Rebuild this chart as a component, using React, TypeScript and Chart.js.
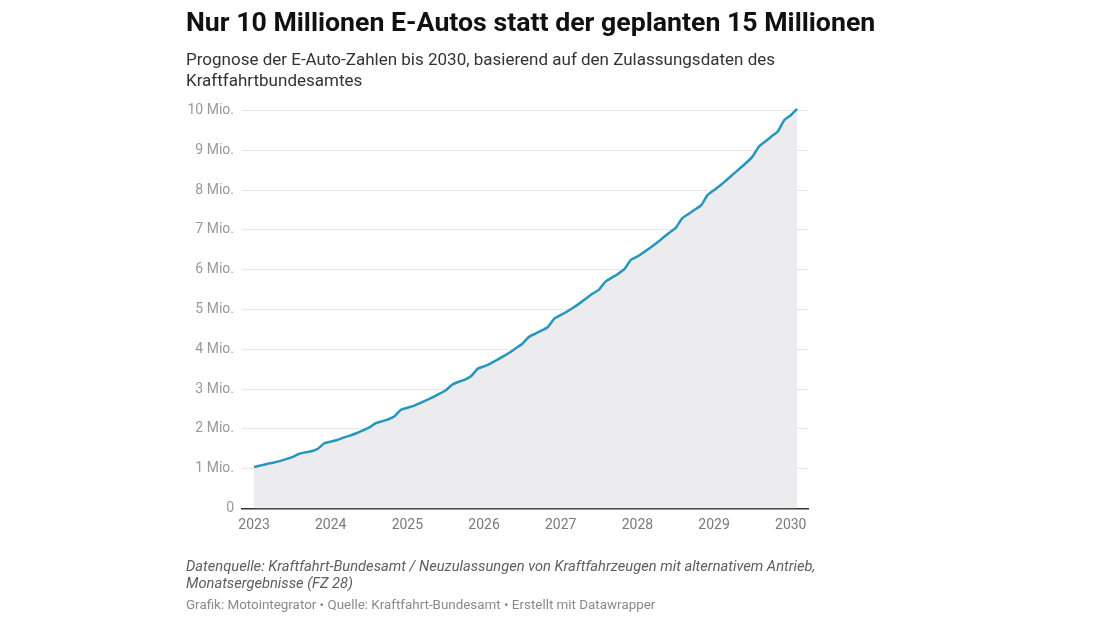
import React, { useEffect, useRef } from "react";
import { Chart, registerables } from "chart.js";

Chart.register(...registerables);

// Monthly cumulative number of e-cars (millions), Jan 2023 .. Feb 2030
const values2023 = [1.04, 1.08, 1.12, 1.15, 1.19, 1.24, 1.29, 1.37, 1.41, 1.44, 1.5, 1.64];
const values2024 = [1.68, 1.72, 1.78, 1.83, 1.89, 1.96, 2.03, 2.14, 2.19, 2.24, 2.32, 2.48];
const values2025 = [2.53, 2.58, 2.65, 2.72, 2.8, 2.88, 2.97, 3.11, 3.18, 3.24, 3.33, 3.51];
const values2026 = [3.57, 3.64, 3.73, 3.82, 3.92, 4.03, 4.14, 4.31, 4.39, 4.47, 4.56, 4.77];
const values2027 = [4.86, 4.95, 5.05, 5.16, 5.28, 5.4, 5.5, 5.7, 5.8, 5.9, 6.02, 6.25];
const values2028 = [6.33, 6.44, 6.55, 6.67, 6.8, 6.93, 7.05, 7.29, 7.4, 7.51, 7.62, 7.88];
const values2029 = [8.0, 8.12, 8.26, 8.4, 8.54, 8.68, 8.84, 9.09, 9.22, 9.35, 9.48, 9.76];
const values2030 = [9.88, 10.04];

const allValues = [
  ...values2023, ...values2024, ...values2025, ...values2026,
  ...values2027, ...values2028, ...values2029, ...values2030,
];

const yearLabels = ["2023", "2024", "2025", "2026", "2027", "2028", "2029", "2030"];
const yTicks = [0, 1, 2, 3, 4, 5, 6, 7, 8, 9, 10];

const FONT = "Roboto, 'Noto Sans', sans-serif";

export default function App() {
  const ref = useRef<HTMLCanvasElement | null>(null);

  useEffect(() => {
    if (!ref.current) return;
    const points = allValues.map((v, i) => ({ x: i, y: v }));
    const chart = new Chart(ref.current, {
      type: "line",
      data: {
        datasets: [
          {
            data: points,
            borderColor: "#2596bc",
            borderWidth: 2.5,
            backgroundColor: "#ececef",
            fill: "origin",
            pointRadius: 0,
            tension: 0.2,
          },
        ],
      },
      options: {
        animation: false,
        responsive: false,
        maintainAspectRatio: false,
        layout: { padding: { top: 102.5, right: 292, bottom: 0, left: 0 } },
        plugins: { legend: { display: false }, tooltip: { enabled: false } },
        scales: {
          x: {
            type: "linear",
            min: -1.88,
            max: 86.7,
            afterBuildTicks: (s: any) => {
              s.ticks = yearLabels.map((_, i) => ({ value: i * 12 }));
            },
            afterFit: (s: any) => {
              s.height = 618 - 508.5;
            },
            grid: { color: "transparent", drawTicks: false },
            border: { display: true, color: "#333333", width: 1.5 },
            ticks: {
              padding: 9,
              color: "#7a7a7a",
              font: { family: FONT, size: 14 },
              maxRotation: 0,
              autoSkip: false,
              callback: (v: any) => yearLabels[Math.round(Number(v) / 12)] ?? "",
            },
          },
          y: {
            min: 0,
            max: 10.2,
            afterBuildTicks: (s: any) => {
              s.ticks = yTicks.map((v) => ({ value: v }));
            },
            afterFit: (s: any) => {
              s.width = 242;
            },
            grid: { color: "#e6e6e6", lineWidth: 1, drawTicks: false },
            border: { display: false },
            ticks: {
              padding: 8,
              color: "#999999",
              font: { family: FONT, size: 14 },
              callback: (v: any) => (Number(v) === 0 ? "0" : `${v} Mio.`),
            },
          },
        },
      },
    });
    return () => chart.destroy();
  }, []);

  const base: React.CSSProperties = {
    position: "absolute",
    left: 186,
    fontFamily: FONT,
    whiteSpace: "nowrap",
    margin: 0,
  };

  return (
    <div>
      <canvas
        ref={ref}
        width={1100}
        height={618}
        style={{ position: "absolute", left: 0, top: 0, width: 1100, height: 618 }}
      />
      <div style={{ ...base, top: 7.4, fontSize: 26.7, lineHeight: "30px", fontWeight: 700, color: "#111" }}>
        Nur 10 Millionen E-Autos statt der geplanten 15 Millionen
      </div>
      <div style={{ ...base, top: 48.7, fontSize: 17, lineHeight: "21px", color: "#333" }}>
        Prognose der E-Auto-Zahlen bis 2030, basierend auf den Zulassungsdaten des
        <br />
        Kraftfahrtbundesamtes
      </div>
      <div style={{ ...base, top: 558, fontSize: 14.7, lineHeight: "17px", fontStyle: "italic", color: "#5e5e5e" }}>
        Datenquelle: Kraftfahrt-Bundesamt / Neuzulassungen von Kraftfahrzeugen mit alternativem Antrieb,
        <br />
        Monatsergebnisse (FZ 28)
      </div>
      <div style={{ ...base, top: 597.2, fontSize: 13.4, lineHeight: "16px", color: "#8a8a8a" }}>
        Grafik: Motointegrator • Quelle: Kraftfahrt-Bundesamt • Erstellt mit Datawrapper
      </div>
    </div>
  );
}
